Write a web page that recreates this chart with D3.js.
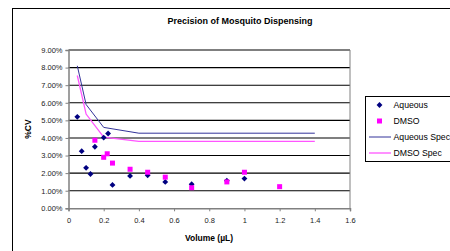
<!DOCTYPE html>
<html>
<head>
<meta charset="utf-8">
<script src="https://cdn.jsdelivr.net/npm/d3@7"></script>
<style>
  body { margin: 0; background: #fff; overflow: hidden; }
  svg { display: block; font-family: "Liberation Sans", Arial, sans-serif; }
</style>
</head>
<body>
<div id="chart"></div>
<script>
// data
const aqueousX = [0.05, 0.075, 0.1, 0.125, 0.15, 0.2, 0.225, 0.25, 0.35, 0.45, 0.55, 0.7, 0.9, 1.0];
const aqueousY = [5.2, 3.25, 2.3, 1.95, 3.5, 4.02, 4.25, 1.33, 1.84, 1.88, 1.5, 1.37, 1.57, 1.69];
const dmsoX = [0.15, 0.2, 0.22, 0.25, 0.35, 0.45, 0.55, 0.7, 0.9, 1.0, 1.2];
const dmsoY = [3.87, 2.9, 3.1, 2.57, 2.22, 2.05, 1.77, 1.17, 1.5, 2.05, 1.23];
const specX = [0.05, 0.1, 0.2, 0.4, 1.4];
const aqueousSpecY = [8.1, 5.9, 4.6, 4.27, 4.27];
const dmsoSpecY = [7.55, 5.36, 4.05, 3.8, 3.8];
const xTicks = [0, 0.2, 0.4, 0.6, 0.8, 1, 1.2, 1.4, 1.6];
const yTicks = [0, 1, 2, 3, 4, 5, 6, 7, 8, 9];

const W = 450, H = 251;
const plot = { left: 68.5, right: 350, top: 50, bottom: 208.3 };

const svg = d3.select('#chart').append('svg')
  .attr('width', W)
  .attr('height', H);

// chart area border (right and bottom run off the page)
svg.append('rect')
  .attr('x', 12.5).attr('y', 8.5)
  .attr('width', W).attr('height', H)
  .attr('fill', '#fff')
  .attr('stroke', '#000');

const x = d3.scaleLinear().domain([0, 1.6]).range([plot.left, plot.right]);
const y = d3.scaleLinear().domain([0, 9]).range([plot.bottom, plot.top]);

// gridlines
svg.append('g')
  .selectAll('line')
  .data(yTicks.slice(1))
  .enter().append('line')
  .attr('x1', plot.left).attr('x2', plot.right)
  .attr('y1', d => y(d)).attr('y2', d => y(d))
  .attr('stroke', '#000')
  .attr('stroke-width', 1.1);

// plot frame right side
svg.append('line')
  .attr('x1', plot.right).attr('x2', plot.right)
  .attr('y1', plot.top).attr('y2', plot.bottom)
  .attr('stroke', '#808080');

const yAxis = svg.append('g')
  .attr('transform', `translate(${plot.left},0)`)
  .call(d3.axisLeft(y).tickValues(yTicks).tickSize(3).tickFormat(d => d.toFixed(2) + '%'));

const xAxis = svg.append('g')
  .attr('transform', `translate(0,${plot.bottom})`)
  .call(d3.axisBottom(x).tickValues(xTicks).tickSize(3).tickFormat(d => d));

[xAxis, yAxis].forEach(a => {
  a.select('.domain').attr('stroke', '#808080').attr('stroke-width', 1.5);
  a.selectAll('.tick line').attr('stroke', '#808080');
  a.selectAll('text').attr('font-size', 7.5).attr('fill', '#222')
    .attr('font-family', '"Liberation Sans", Arial, sans-serif');
});
xAxis.selectAll('text').attr('dy', '1.1em');

// spec lines
const line = d3.line().x(d => x(d[0])).y(d => y(d[1]));
svg.append('path')
  .datum(d3.zip(specX, aqueousSpecY))
  .attr('d', line)
  .attr('fill', 'none')
  .attr('stroke', '#33339a')
  .attr('stroke-width', 1);
svg.append('path')
  .datum(d3.zip(specX, dmsoSpecY))
  .attr('d', line)
  .attr('fill', 'none')
  .attr('stroke', '#ff55ff')
  .attr('stroke-width', 1.3);

// markers
const diamond = d3.symbol().type(d3.symbolDiamond2).size(22);
svg.append('g')
  .selectAll('path')
  .data(d3.zip(aqueousX, aqueousY))
  .enter().append('path')
  .attr('d', diamond)
  .attr('transform', d => `translate(${x(d[0])},${y(d[1])})`)
  .attr('fill', '#000080');

svg.append('g')
  .selectAll('rect')
  .data(d3.zip(dmsoX, dmsoY))
  .enter().append('rect')
  .attr('x', d => x(d[0]) - 2.5)
  .attr('y', d => y(d[1]) - 2.5)
  .attr('width', 5).attr('height', 5)
  .attr('fill', '#ff00ff');

// titles
svg.append('text')
  .attr('x', 240).attr('y', 24)
  .attr('text-anchor', 'middle')
  .attr('font-size', 9).attr('font-weight', 'bold')
  .text('Precision of Mosquito Dispensing');

svg.append('text')
  .attr('x', 209).attr('y', 241)
  .attr('text-anchor', 'middle')
  .attr('font-size', 8.5).attr('font-weight', 'bold')
  .text('Volume (µL)');

svg.append('text')
  .attr('transform', 'translate(31,129) rotate(-90)')
  .attr('text-anchor', 'middle')
  .attr('font-size', 8.5).attr('font-weight', 'bold')
  .text('%CV');

// legend (box runs past the right edge, as in the original)
const legend = svg.append('g');
legend.append('rect')
  .attr('x', 365.5).attr('y', 96.5)
  .attr('width', 150).attr('height', 65)
  .attr('fill', '#fff')
  .attr('stroke', '#000');

const legendItems = [
  { name: 'Aqueous', kind: 'diamond', color: '#000080' },
  { name: 'DMSO', kind: 'square', color: '#ff00ff' },
  { name: 'Aqueous Spec', kind: 'line', color: '#33339a' },
  { name: 'DMSO Spec', kind: 'line', color: '#ff55ff' }
];
const ly = d3.scalePoint().domain(legendItems.map(d => d.name)).range([105, 153]);

legendItems.forEach(d => {
  const cy = ly(d.name);
  if (d.kind === 'diamond') {
    legend.append('path').attr('d', diamond)
      .attr('transform', `translate(379.5,${cy})`).attr('fill', d.color);
  } else if (d.kind === 'square') {
    legend.append('rect').attr('x', 377).attr('y', cy - 2.5)
      .attr('width', 5).attr('height', 5).attr('fill', d.color);
  } else {
    legend.append('line').attr('x1', 369).attr('x2', 391)
      .attr('y1', cy).attr('y2', cy)
      .attr('stroke', d.color).attr('stroke-width', d.name === 'DMSO Spec' ? 1.3 : 1);
  }
  legend.append('text')
    .attr('x', 393.5).attr('y', cy + 3)
    .attr('font-size', 8.7)
    .text(d.name);
});
</script>
</body>
</html>
